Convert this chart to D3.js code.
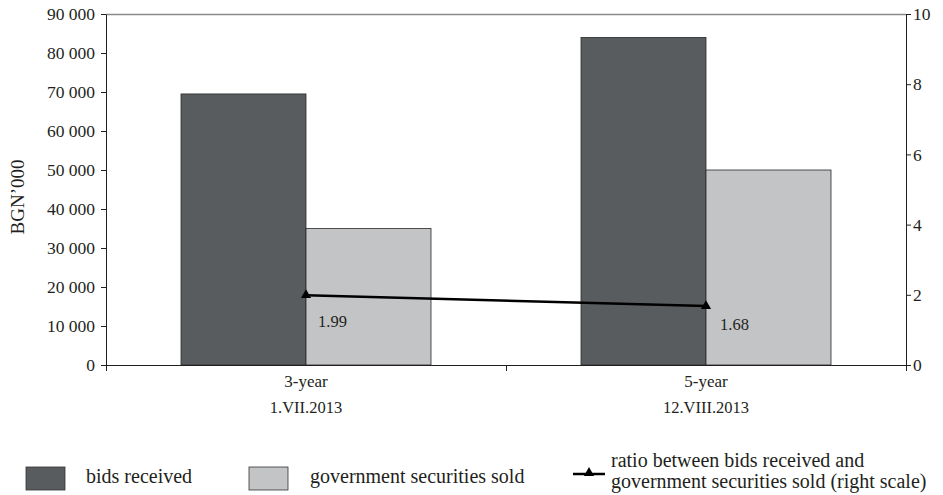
<!DOCTYPE html>
<html><head><meta charset="utf-8">
<script src="https://cdn.jsdelivr.net/npm/d3@7"></script>
<style>body{margin:0;background:#fff}svg{display:block}</style>
</head><body>
<svg id="c" width="943" height="495"></svg>
<script>
const categories = ["3-year", "5-year"];
const dates = ["1.VII.2013", "12.VIII.2013"];
const bidsReceived = [69500, 84000];
const securitiesSold = [35000, 50000];
const ratio = [1.99, 1.68];
const leftTicks = [0,10000,20000,30000,40000,50000,60000,70000,80000,90000];
const rightTicks = [0,2,4,6,8,10];
const seriesNames = ["bids received", "government securities sold", "ratio between bids received and", "government securities sold (right scale)"];
const colors = {dark:"#595c5f", light:"#c3c4c6"};

const svg = d3.select("#c");
const L=106, R=906, T=14, B=365;
const x = d3.scaleBand().domain(categories).range([L,R]).paddingInner(0).paddingOuter(0);
const yL = d3.scaleLinear().domain([0,90000]).range([B,T]);
const yR = d3.scaleLinear().domain([0,10]).range([B,T]);
const barW = 125;
const fmt = v => d3.format(",")(v).replace(/,/g," ");

svg.append("line").attr("x1",L).attr("x2",R).attr("y1",T+0.5).attr("y2",T+0.5).attr("stroke","#8a8a8a").attr("stroke-width",1.5);

categories.forEach((c,i)=>{
  const cx = x(c)+x.bandwidth()/2;
  svg.append("rect").attr("x",cx-barW).attr("y",yL(bidsReceived[i])).attr("width",barW).attr("height",B-yL(bidsReceived[i]))
    .attr("fill",colors.dark).attr("stroke","#2a2a2a").attr("stroke-width",0.8);
  svg.append("rect").attr("x",cx).attr("y",yL(securitiesSold[i])).attr("width",barW).attr("height",B-yL(securitiesSold[i]))
    .attr("fill",colors.light).attr("stroke","#2a2a2a").attr("stroke-width",0.8);
});

const gl = svg.append("g").attr("transform",`translate(${L},0)`)
  .call(d3.axisLeft(yL).tickValues(leftTicks).tickFormat(fmt).tickSize(5).tickSizeOuter(0));
const gr = svg.append("g").attr("transform",`translate(${R},0)`)
  .call(d3.axisRight(yR).tickValues(rightTicks).tickSize(5).tickSizeOuter(0));
[gl,gr].forEach(g=>{
  g.attr("font-family",null).attr("font-size",null);
  g.selectAll("path,line").attr("stroke","#231f20");
  g.selectAll("text").style("font-size","17.5px");
});
gl.selectAll("text").attr("x",-11);
gr.selectAll("text").attr("x",7);

svg.append("line").attr("x1",L).attr("x2",R).attr("y1",B+0.5).attr("y2",B+0.5).attr("stroke","#231f20");
[L, x(categories[1]), R].forEach(v=>{
  svg.append("line").attr("x1",Math.round(v)+0.5).attr("x2",Math.round(v)+0.5).attr("y1",B).attr("y2",B+6).attr("stroke","#231f20");
});
categories.forEach((c,i)=>{
  const cx = x(c)+x.bandwidth()/2;
  svg.append("text").attr("x",cx).attr("y",387).attr("text-anchor","middle").style("font-size","17px").text(c);
  svg.append("text").attr("x",cx).attr("y",413).attr("text-anchor","middle").style("font-size","16.5px").text(dates[i]);
});

svg.append("text").attr("transform","translate(24,197) rotate(-90)").attr("text-anchor","middle").style("font-size","19px").text("BGN’000");

const pts = categories.map((c,i)=>[x(c)+x.bandwidth()/2, yR(ratio[i])]);
svg.append("path").attr("d",d3.line()(pts)).attr("fill","none").attr("stroke","#000").attr("stroke-width",2.5);
const tri = d3.symbol().type(d3.symbolTriangle).size(45);
const labOff = [[12,32],[14,24]];
pts.forEach((p,i)=>{
  svg.append("path").attr("d",tri()).attr("transform",`translate(${p[0]},${p[1]})`).attr("fill","#000");
  svg.append("text").attr("x",p[0]+labOff[i][0]).attr("y",p[1]+labOff[i][1]).style("font-size","16.5px").text(ratio[i].toFixed(2));
});

// legend
svg.append("rect").attr("x",26).attr("y",467).attr("width",39).attr("height",23).attr("fill",colors.dark).attr("stroke","#333").attr("stroke-width",0.8);
svg.append("text").attr("x",86).attr("y",483).style("font-size","20px").text(seriesNames[0]);
svg.append("rect").attr("x",249).attr("y",467).attr("width",39).attr("height",23).attr("fill",colors.light).attr("stroke","#333").attr("stroke-width",0.8);
svg.append("text").attr("x",310).attr("y",483).style("font-size","20px").text(seriesNames[1]);
svg.append("line").attr("x1",573).attr("x2",605).attr("y1",474).attr("y2",474).attr("stroke","#000").attr("stroke-width",2.5);
svg.append("path").attr("d",tri()).attr("transform","translate(589,473)").attr("fill","#000");
svg.append("text").attr("x",611).attr("y",467).style("font-size","20px").text(seriesNames[2]);
svg.append("text").attr("x",611).attr("y",488).style("font-size","20px").text(seriesNames[3]);

svg.selectAll("text").style("font-family","'Liberation Serif', 'Times New Roman', serif").attr("fill","#231f20");
</script>
</body></html>
